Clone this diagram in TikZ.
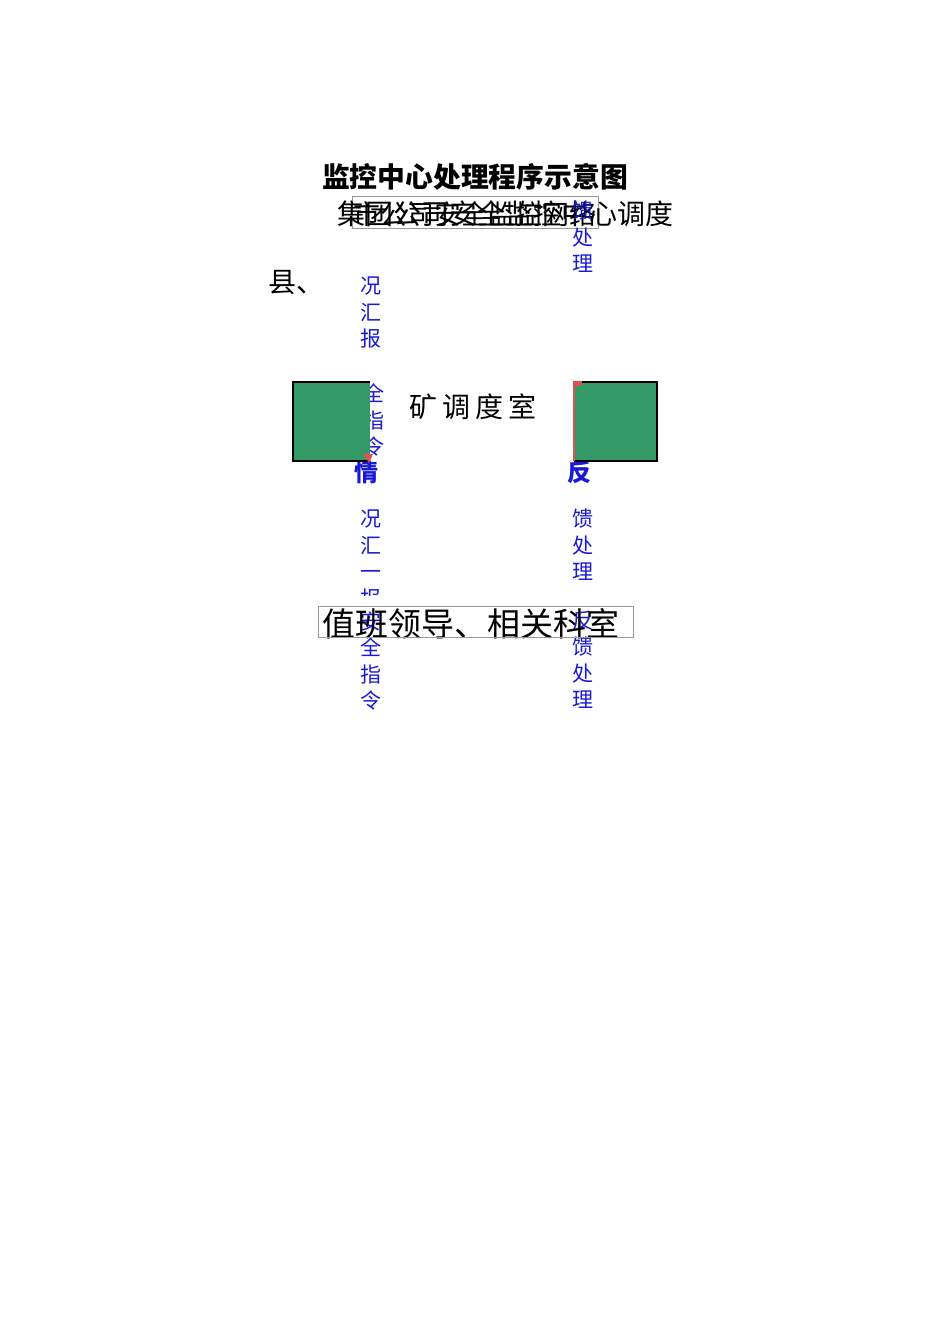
\documentclass[tikz,border=0pt]{standalone}
\usepackage{fontspec}
\setmainfont{Noto Sans CJK SC}
\begin{document}
\begin{tikzpicture}[x=1pt,y=-1pt,
  every node/.style={inner sep=0pt,outer sep=0pt},
  blk/.style={font=\fontsize{27}{27}\selectfont,text=black},
  bluev/.style={font=\fontsize{21}{26.5}\selectfont,text=linkblue,align=center},
  bluebold/.style={font=\fontsize{24}{24}\selectfont\bfseries,text=linkblue},
  greenbox/.style={fill=boxgreen},
  graybox/.style={draw=gray!80,line width=0.8pt}]
\definecolor{linkblue}{HTML}{1A1AD6}
\definecolor{boxgreen}{HTML}{339966}
\definecolor{markred}{HTML}{E05050}
\useasboundingbox[fill=white] (0,0) rectangle (950,1344);

% title
\node[font=\fontsize{27.8}{28}\selectfont\bfseries] (title) at (475,177) {监控中心处理程序示意图};

% overlapping top line
\draw[graybox] (352,196) rectangle (598,228);
\node[blk,font=\fontsize{28}{28}\selectfont] (topA) at (505,214) {集团公司安全监控中心调度};
\node[blk] (topB) at (475,214) {市公司安全监控网络};
\node[blk,font=\fontsize{28}{28}\selectfont] (county) at (296,283) {县、};

% left blue column
\node[bluev] (l1) at (371,313) {况\\汇\\报};
\node[bluev] (l2) at (374,420) {全\\指\\令};
\node[bluebold] (l3) at (366,472) {情};
\begin{scope}
\clip (340,500) rectangle (400,595);
\node[bluev] (l4) at (371,559) {况\\汇\\一\\报};
\end{scope}
\node[bluev] (l5) at (371,661) {安\\全\\指\\令};

% right blue column
\node[bluev] (r1) at (583,237) {馈\\处\\理};
\node[bluebold] (r2) at (579,472) {反};
\node[bluev] (r3) at (583,545) {馈\\处\\理};
\node[bluev] (r4) at (583,660) {反\\馈\\处\\理};

% green boxes
\fill[greenbox] (293,382) rectangle (370,461);
\draw[line width=2pt] (370,382) -- (293,382) -- (293,461) -- (370,461);
\fill[markred] (363,454) -- (373,454) -- (369,463) -- cycle;
\fill[greenbox] (574,382) rectangle (657,461);
\draw[line width=2pt] (574,382) -- (657,382) -- (657,461) -- (574,461);
\draw[markred,line width=1.6pt] (574,382) -- (574,461);
\fill[markred] (573,381) rectangle (582,386);

% centre label
\node[font=\fontsize{28}{28}\selectfont] (mine) at (473,407) {矿\hspace{5pt}调\hspace{5pt}度\hspace{5pt}室};

% bottom box
\node[font=\fontsize{33}{33}\selectfont] (duty) at (471,624) {值班领导、相关科室};
\draw[graybox] (318,606) rectangle (633,637);
\end{tikzpicture}
\end{document}
